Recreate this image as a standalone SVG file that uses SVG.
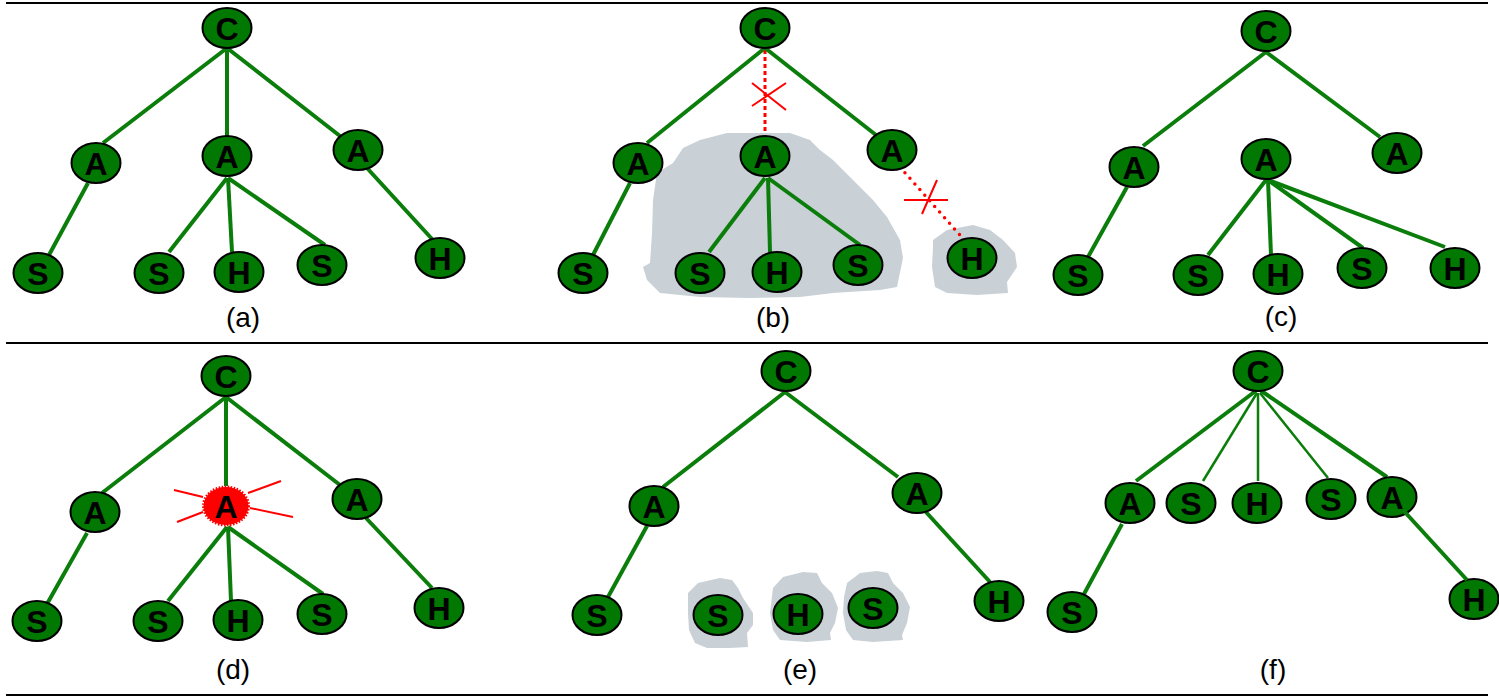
<svg xmlns="http://www.w3.org/2000/svg" width="1499" height="696" viewBox="0 0 1499 696">
  <style>
    .rule { stroke: #000; stroke-width: 2; }
    .edge { stroke: #0b7d0b; stroke-width: 4; fill: none; }
    .thin { stroke-width: 2.5; }
    .cut { stroke: #ff0000; fill: none; stroke-width: 3; stroke-dasharray: 4 3; }
    .cutdot { stroke: #ff0000; fill: none; stroke-width: 3.5; stroke-linecap: round; stroke-dasharray: 0 7.5; }
    .mark { stroke: #ff0000; stroke-width: 2; fill: none; }
    .blob { fill: #c9d1d6; }
    .node ellipse { fill: #017801; stroke: #000; stroke-width: 2; }
    .node text, .hot text { font-family: "Liberation Sans", Arial, sans-serif; font-weight: bold; font-size: 32px; text-anchor: middle; fill: #000; }
    .hot ellipse { fill: #ff0000; stroke: #ff0000; stroke-width: 3; stroke-dasharray: 1.5 1.5; }
    .cap { font-family: "Liberation Sans", Arial, sans-serif; font-size: 28px; text-anchor: middle; fill: #000; }
  </style>

  <!-- frame rules -->
  <g id="rules">
    <line class="rule" x1="6" y1="3" x2="1488" y2="3"/>
    <line class="rule" x1="6" y1="343" x2="1488" y2="343"/>
    <line class="rule" x1="6" y1="695" x2="1488" y2="695"/>
  </g>

  <!-- shaded regions -->
  <g id="regions">
    <path class="blob" d="M683,148 L700,140 L727,133 L790,133 L810,140 L820,150 L833,160 L853,180 L873,200 L887,217 L900,240 L903,258 L897,287 L880,290 L833,293 L800,297 L750,298 L700,297 L660,293 L647,280 L643,267 L650,263 L652,233 L653,200 L657,173 L673,163 Z"/>
    <path class="blob" d="M933,240 L947,230 L973,225 L990,230 L1003,240 L1015,253 L1017,267 L1007,282 L1008,293 L977,295 L947,293 L935,287 L932,267 L933,247 Z"/>
    <path class="blob" d="M688,593 L698,583 L720,578 L732,580 L738,588 L743,598 L753,613 L753,625 L747,633 L748,647 L730,648 L707,648 L695,643 L689,630 L688,613 Z"/>
    <path class="blob" d="M773,588 L783,577 L803,572 L817,573 L822,583 L832,593 L838,608 L835,623 L830,633 L831,640 L807,642 L780,640 L773,630 L770,613 Z"/>
    <path class="blob" d="M847,583 L860,573 L877,571 L888,573 L893,583 L903,593 L910,607 L907,623 L902,635 L903,640 L873,642 L853,640 L846,630 L843,613 L844,597 Z"/>
  </g>

  <!-- connectors -->
  <g id="connectors">
    <!-- (a) -->
    <line class="edge" x1="227" y1="48" x2="103" y2="143"/>
    <line class="edge" x1="227" y1="48" x2="227" y2="136"/>
    <line class="edge" x1="227" y1="48" x2="340" y2="136"/>
    <line class="edge" x1="88" y1="183" x2="49" y2="255"/>
    <line class="edge" x1="227" y1="178" x2="169" y2="252"/>
    <line class="edge" x1="228" y1="178" x2="232" y2="252"/>
    <line class="edge" x1="228" y1="178" x2="325" y2="245"/>
    <line class="edge" x1="367" y1="168" x2="432" y2="239"/>
    <!-- (b) -->
    <line class="edge" x1="765" y1="48" x2="647" y2="143"/>
    <line class="cut" x1="765" y1="50" x2="765" y2="134"/>
    <line class="edge" x1="765" y1="48" x2="876" y2="135"/>
    <line class="edge" x1="630" y1="183" x2="593" y2="255"/>
    <line class="edge" x1="765" y1="178" x2="709" y2="252"/>
    <line class="edge" x1="768" y1="178" x2="770" y2="252"/>
    <line class="edge" x1="768" y1="178" x2="860" y2="245"/>
    <line class="cutdot" x1="900" y1="167" x2="966" y2="242"/>
    <path class="mark" d="M752,83 L786,110 M752,106 L786,83"/>
    <path class="mark" d="M904,200 L948,200 M922,214 L937,180"/>
    <!-- (c) -->
    <line class="edge" x1="1266" y1="52" x2="1143" y2="146"/>
    <line class="edge" x1="1266" y1="52" x2="1380" y2="137"/>
    <line class="edge" x1="1127" y1="187" x2="1088" y2="257"/>
    <line class="edge" x1="1266" y1="180" x2="1208" y2="255"/>
    <line class="edge" x1="1268" y1="180" x2="1271" y2="255"/>
    <line class="edge" x1="1268" y1="180" x2="1363" y2="248"/>
    <line class="edge" x1="1268" y1="180" x2="1445" y2="247"/>
    <!-- (d) -->
    <line class="edge" x1="226" y1="397" x2="102" y2="493"/>
    <line class="edge" x1="226" y1="397" x2="226" y2="486"/>
    <line class="edge" x1="226" y1="397" x2="340" y2="485"/>
    <line class="edge" x1="87" y1="533" x2="47" y2="604"/>
    <line class="edge" x1="227" y1="527" x2="168" y2="601"/>
    <line class="edge" x1="228" y1="527" x2="231" y2="601"/>
    <line class="edge" x1="228" y1="527" x2="323" y2="594"/>
    <line class="edge" x1="366" y1="518" x2="432" y2="588"/>
    <!-- (e) -->
    <line class="edge" x1="785" y1="392" x2="663" y2="487"/>
    <line class="edge" x1="785" y1="392" x2="898" y2="477"/>
    <line class="edge" x1="647" y1="526" x2="608" y2="597"/>
    <line class="edge" x1="925" y1="511" x2="990" y2="582"/>
    <!-- (f) -->
    <line class="edge" x1="1257" y1="390" x2="1136" y2="481"/>
    <line class="edge thin" x1="1257" y1="393" x2="1203" y2="481"/>
    <line class="edge thin" x1="1258" y1="393" x2="1258" y2="481"/>
    <line class="edge thin" x1="1260" y1="393" x2="1328" y2="478"/>
    <line class="edge" x1="1260" y1="390" x2="1387" y2="477"/>
    <line class="edge" x1="1122" y1="524" x2="1084" y2="594"/>
  </g>

  <!-- (a) nodes -->
  <g id="a-C" class="node"><ellipse cx="227" cy="28" rx="24.5" ry="20"/><text x="227" y="39.5">C</text></g>
  <g id="a-A1" class="node"><ellipse cx="96" cy="163" rx="24.5" ry="20"/><text x="96" y="174.5">A</text></g>
  <g id="a-A2" class="node"><ellipse cx="227" cy="156" rx="24.5" ry="20"/><text x="227" y="167.5">A</text></g>
  <g id="a-A3" class="node"><ellipse cx="358" cy="150" rx="24.5" ry="20"/><text x="358" y="161.5">A</text></g>
  <g id="a-S1" class="node"><ellipse cx="38" cy="273" rx="24.5" ry="20"/><text x="38" y="284.5">S</text></g>
  <g id="a-S2" class="node"><ellipse cx="159" cy="273" rx="24.5" ry="20"/><text x="159" y="284.5">S</text></g>
  <g id="a-H1" class="node"><ellipse cx="239" cy="272" rx="24.5" ry="20"/><text x="239" y="283.5">H</text></g>
  <g id="a-S3" class="node"><ellipse cx="322" cy="265" rx="24.5" ry="20"/><text x="322" y="276.5">S</text></g>
  <g id="a-H2" class="node"><ellipse cx="440" cy="258" rx="24.5" ry="20"/><text x="440" y="269.5">H</text></g>

  <!-- (b) nodes -->
  <g id="b-C" class="node"><ellipse cx="765" cy="28" rx="24.5" ry="20"/><text x="765" y="39.5">C</text></g>
  <g id="b-A1" class="node"><ellipse cx="638" cy="163" rx="24.5" ry="20"/><text x="638" y="174.5">A</text></g>
  <g id="b-A2" class="node"><ellipse cx="765" cy="156" rx="24.5" ry="20"/><text x="765" y="167.5">A</text></g>
  <g id="b-A3" class="node"><ellipse cx="892" cy="150" rx="24.5" ry="20"/><text x="892" y="161.5">A</text></g>
  <g id="b-S1" class="node"><ellipse cx="583" cy="273" rx="24.5" ry="20"/><text x="583" y="284.5">S</text></g>
  <g id="b-S2" class="node"><ellipse cx="700" cy="273" rx="24.5" ry="20"/><text x="700" y="284.5">S</text></g>
  <g id="b-H1" class="node"><ellipse cx="777" cy="272" rx="24.5" ry="20"/><text x="777" y="283.5">H</text></g>
  <g id="b-S3" class="node"><ellipse cx="858" cy="265" rx="24.5" ry="20"/><text x="858" y="276.5">S</text></g>
  <g id="b-H2" class="node"><ellipse cx="972" cy="258" rx="24.5" ry="20"/><text x="972" y="269.5">H</text></g>

  <!-- (c) nodes -->
  <g id="c-C" class="node"><ellipse cx="1266" cy="31" rx="24.5" ry="20"/><text x="1266" y="42.5">C</text></g>
  <g id="c-A1" class="node"><ellipse cx="1134" cy="167" rx="24.5" ry="20"/><text x="1134" y="178.5">A</text></g>
  <g id="c-A2" class="node"><ellipse cx="1266" cy="159" rx="24.5" ry="20"/><text x="1266" y="170.5">A</text></g>
  <g id="c-A3" class="node"><ellipse cx="1397" cy="153" rx="24.5" ry="20"/><text x="1397" y="164.5">A</text></g>
  <g id="c-S1" class="node"><ellipse cx="1078" cy="275" rx="24.5" ry="20"/><text x="1078" y="286.5">S</text></g>
  <g id="c-S2" class="node"><ellipse cx="1198" cy="275" rx="24.5" ry="20"/><text x="1198" y="286.5">S</text></g>
  <g id="c-H1" class="node"><ellipse cx="1278" cy="274" rx="24.5" ry="20"/><text x="1278" y="285.5">H</text></g>
  <g id="c-S3" class="node"><ellipse cx="1362" cy="268" rx="24.5" ry="20"/><text x="1362" y="279.5">S</text></g>
  <g id="c-H2" class="node"><ellipse cx="1455" cy="268" rx="24.5" ry="20"/><text x="1455" y="279.5">H</text></g>

  <!-- (d) nodes -->
  <g id="d-C" class="node"><ellipse cx="226" cy="376" rx="24.5" ry="20"/><text x="226" y="387.5">C</text></g>
  <g id="d-A1" class="node"><ellipse cx="95" cy="512" rx="24.5" ry="20"/><text x="95" y="523.5">A</text></g>
  <g id="d-A2" class="hot">
    <path class="mark" d="M174,490 L203,497 M177,522 L203,512 M248,493 L281,481 M250,508 L293,517"/>
    <ellipse cx="226" cy="506" rx="22.5" ry="19"/>
    <text x="226" y="517.5">A</text>
  </g>
  <g id="d-A3" class="node"><ellipse cx="357" cy="499" rx="24.5" ry="20"/><text x="357" y="510.5">A</text></g>
  <g id="d-S1" class="node"><ellipse cx="37" cy="621" rx="24.5" ry="20"/><text x="37" y="632.5">S</text></g>
  <g id="d-S2" class="node"><ellipse cx="158" cy="621" rx="24.5" ry="20"/><text x="158" y="632.5">S</text></g>
  <g id="d-H1" class="node"><ellipse cx="238" cy="620" rx="24.5" ry="20"/><text x="238" y="631.5">H</text></g>
  <g id="d-S3" class="node"><ellipse cx="322" cy="614" rx="24.5" ry="20"/><text x="322" y="625.5">S</text></g>
  <g id="d-H2" class="node"><ellipse cx="439" cy="608" rx="24.5" ry="20"/><text x="439" y="619.5">H</text></g>

  <!-- (e) nodes -->
  <g id="e-C" class="node"><ellipse cx="786" cy="371" rx="24.5" ry="20"/><text x="786" y="382.5">C</text></g>
  <g id="e-A1" class="node"><ellipse cx="654" cy="506" rx="24.5" ry="20"/><text x="654" y="517.5">A</text></g>
  <g id="e-A2" class="node"><ellipse cx="917" cy="493" rx="24.5" ry="20"/><text x="917" y="504.5">A</text></g>
  <g id="e-S1" class="node"><ellipse cx="597" cy="615" rx="24.5" ry="20"/><text x="597" y="626.5">S</text></g>
  <g id="e-S2" class="node"><ellipse cx="718" cy="615" rx="24.5" ry="20"/><text x="718" y="626.5">S</text></g>
  <g id="e-H1" class="node"><ellipse cx="798" cy="614" rx="24.5" ry="20"/><text x="798" y="625.5">H</text></g>
  <g id="e-S3" class="node"><ellipse cx="873" cy="608" rx="24.5" ry="20"/><text x="873" y="619.5">S</text></g>
  <g id="e-H2" class="node"><ellipse cx="999" cy="601" rx="24.5" ry="20"/><text x="999" y="612.5">H</text></g>

  <!-- (f) nodes -->
  <g id="f-C" class="node"><ellipse cx="1258" cy="371" rx="24.5" ry="20"/><text x="1258" y="382.5">C</text></g>
  <g id="f-A1" class="node"><ellipse cx="1130" cy="503" rx="24.5" ry="20"/><text x="1130" y="514.5">A</text></g>
  <g id="f-S1" class="node"><ellipse cx="1191" cy="503" rx="24.5" ry="20"/><text x="1191" y="514.5">S</text></g>
  <g id="f-H1" class="node"><ellipse cx="1257" cy="503" rx="24.5" ry="20"/><text x="1257" y="514.5">H</text></g>
  <g id="f-S2" class="node"><ellipse cx="1331" cy="499" rx="24.5" ry="20"/><text x="1331" y="510.5">S</text></g>
  <g id="f-A2" class="node"><ellipse cx="1392" cy="497" rx="24.5" ry="20"/><text x="1392" y="508.5">A</text></g>
  <g id="f-S3" class="node"><ellipse cx="1072" cy="612" rx="24.5" ry="20"/><text x="1072" y="623.5">S</text></g>
  <g id="f-H2" class="node"><ellipse cx="1474" cy="599" rx="24.5" ry="20"/><text x="1474" y="610.5">H</text></g>
  <line class="edge" x1="1403" y1="510" x2="1467" y2="580"/>

  <!-- panel captions -->
  <g id="captions">
    <text class="cap" x="243" y="327">(a)</text>
    <text class="cap" x="773" y="327">(b)</text>
    <text class="cap" x="1281" y="326">(c)</text>
    <text class="cap" x="233" y="679">(d)</text>
    <text class="cap" x="800" y="679">(e)</text>
    <text class="cap" x="1273" y="679">(f)</text>
  </g>
</svg>
